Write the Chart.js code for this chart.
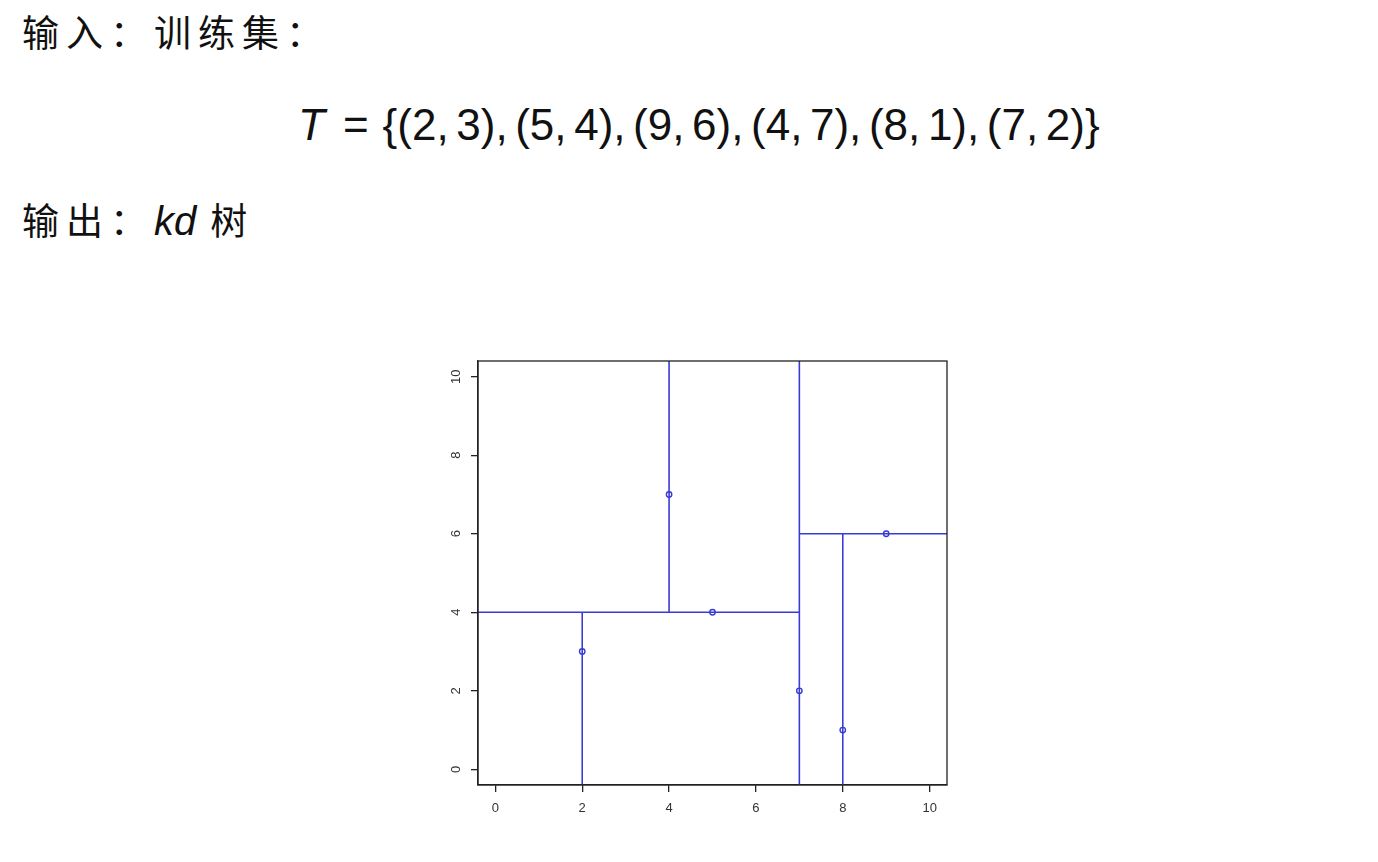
<!DOCTYPE html>
<html><head><meta charset="utf-8">
<script src="https://cdn.jsdelivr.net/npm/chart.js@4/dist/chart.umd.min.js"></script>
<style>
html,body{margin:0;padding:0;background:#fff;width:1378px;height:862px;overflow:hidden;position:relative;}
.cjk{font-family:"Noto Sans CJK SC",sans-serif;color:#111;position:absolute;white-space:nowrap;font-size:37px;line-height:52px;letter-spacing:7px;}
#l1{left:22px;top:5px;}
#l3{left:22px;top:193px;}
#l3 .kd{font-family:"Liberation Sans",sans-serif;font-style:italic;font-size:40px;letter-spacing:0;margin-right:14px;}
#formula{position:absolute;left:298px;top:95px;font-family:"Liberation Sans",sans-serif;font-size:44px;line-height:60px;color:#111;white-space:nowrap;}
#formula i{font-style:italic;}
#formula .eq{margin:0 14px 0 18px;}
#formula .c{margin-right:7.6px;}
#wrap{position:absolute;left:420px;top:340px;width:560px;height:500px;}
</style></head><body>
<div id="l1" class="cjk">输入：训练集：</div>
<div id="formula"><i>T</i><span class="eq">=</span>{(2<span class="c">,</span>3)<span class="c">,</span>(5<span class="c">,</span>4)<span class="c">,</span>(9<span class="c">,</span>6)<span class="c">,</span>(4<span class="c">,</span>7)<span class="c">,</span>(8<span class="c">,</span>1)<span class="c">,</span>(7<span class="c">,</span>2)}</div>
<div id="l3" class="cjk">输出：<span class="kd">kd</span>树</div>
<div id="wrap"><canvas id="c" width="560" height="500"></canvas></div>
<script>
// training points
const pointX = [2, 5, 9, 4, 8, 7];
const pointY = [3, 4, 6, 7, 1, 2];
// axis limits and ticks
const axisMin = -0.4, axisMax = 10.4;
const tickValues = [0, 2, 4, 6, 8, 10];
// kd-tree split segments (x0,y0)-(x1,y1)
const segX0 = [axisMin, 7, 2, 4, 7, 8];
const segY0 = [4, axisMin, axisMin, 4, 6, axisMin];
const segX1 = [7, 7, 2, 4, axisMax, 8];
const segY1 = [4, axisMax, 4, axisMax, 6, 6];

const blue = '#3a3ad6';
const datasets = segX0.map((x0, i) => ({
  type: 'line',
  data: [{x: x0, y: segY0[i]}, {x: segX1[i], y: segY1[i]}],
  borderColor: blue, borderWidth: 1.6, pointRadius: 0, fill: false, tension: 0
}));
datasets.push({
  type: 'scatter',
  data: pointX.map((x, i) => ({x, y: pointY[i]})),
  borderColor: blue, backgroundColor: 'rgba(0,0,0,0)', borderWidth: 1.4,
  pointRadius: 2.7, pointStyle: 'circle'
});

const boxPlugin = {
  id: 'box',
  afterDraw(chart) {
    const a = chart.chartArea, ctx = chart.ctx;
    ctx.save();
    ctx.strokeStyle = '#222'; ctx.lineWidth = 1.3;
    ctx.strokeRect(a.left, a.top, a.right - a.left, a.bottom - a.top);
    ctx.restore();
  }
};

const tickOpts = {color: '#333', font: {family: 'Liberation Sans, Arial, sans-serif', size: 13}};
new Chart(document.getElementById('c'), {
  type: 'scatter',
  data: {datasets},
  plugins: [boxPlugin],
  options: {
    responsive: false, animation: false,
    layout: {padding: {left: 0, right: 33, top: 21, bottom: 0}},
    plugins: {legend: {display: false}, tooltip: {enabled: false}},
    scales: {
      x: {
        type: 'linear', min: axisMin, max: axisMax,
        afterBuildTicks: s => { s.ticks = tickValues.map(v => ({value: v})); },
        afterFit: s => { s.height = 55; },
        grid: {display: true, drawOnChartArea: false, drawTicks: true, tickLength: 7, color: '#222', lineWidth: 1.3},
        border: {display: true, color: '#222', width: 1.3},
        ticks: Object.assign({padding: 9, maxRotation: 0, minRotation: 0}, tickOpts)
      },
      y: {
        type: 'linear', min: axisMin, max: axisMax,
        afterBuildTicks: s => { s.ticks = tickValues.map(v => ({value: v})); },
        afterFit: s => { s.width = 58; },
        grid: {display: true, drawOnChartArea: false, drawTicks: true, tickLength: 7, color: '#222', lineWidth: 1.3},
        border: {display: true, color: '#222', width: 1.3},
        ticks: Object.assign({padding: 7, minRotation: 90, maxRotation: 90, crossAlign: 'center'}, tickOpts)
      }
    }
  }
});
</script>
</body></html>
